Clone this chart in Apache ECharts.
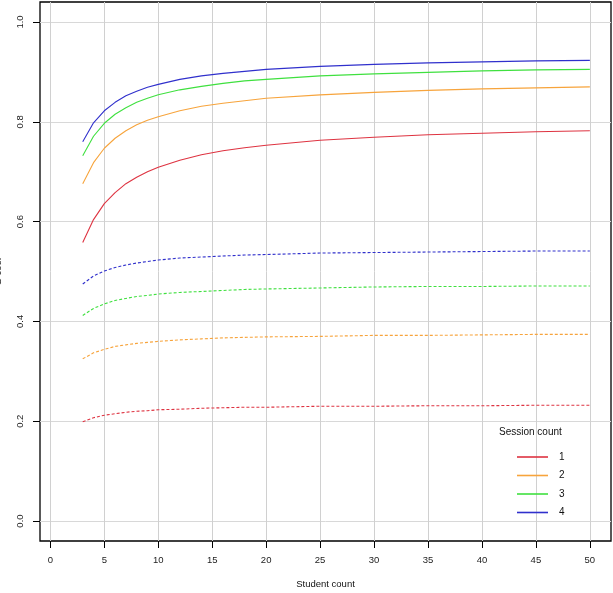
<!DOCTYPE html>
<html>
<head>
<meta charset="utf-8">
<script src="https://cdn.jsdelivr.net/npm/echarts@6/dist/echarts.min.js"></script>
<style>
html,body{margin:0;padding:0;background:#fff;}
#chart{width:613px;height:593px;}
</style>
</head>
<body>
<div id="chart"></div>
<script>
// Student counts (x)
const studentCounts = [3,4,5,6,7,8,9,10,12,14,16,18,20,25,30,35,40,45,50];
// Solid curves, session count 1..4
const solid1 = [0.558,0.604,0.636,0.658,0.676,0.689,0.700,0.709,0.723,0.734,0.742,0.748,0.753,0.763,0.769,0.774,0.777,0.780,0.782];
const solid2 = [0.676,0.718,0.747,0.767,0.782,0.794,0.803,0.810,0.822,0.831,0.837,0.842,0.847,0.854,0.859,0.863,0.866,0.868,0.870];
const solid3 = [0.732,0.771,0.797,0.815,0.828,0.839,0.847,0.854,0.864,0.871,0.877,0.882,0.885,0.892,0.896,0.899,0.902,0.904,0.905];
const solid4 = [0.760,0.798,0.822,0.839,0.852,0.861,0.869,0.875,0.885,0.892,0.897,0.901,0.905,0.911,0.915,0.918,0.920,0.922,0.923];
// Dashed curves, session count 1..4
const dashed1 = [0.199,0.207,0.212,0.215,0.218,0.220,0.221,0.223,0.224,0.226,0.227,0.228,0.228,0.230,0.230,0.231,0.231,0.232,0.232];
const dashed2 = [0.325,0.337,0.344,0.350,0.353,0.356,0.358,0.360,0.363,0.365,0.367,0.368,0.369,0.370,0.372,0.372,0.373,0.374,0.374];
const dashed3 = [0.412,0.426,0.435,0.442,0.446,0.450,0.452,0.455,0.458,0.460,0.462,0.464,0.465,0.467,0.469,0.470,0.470,0.471,0.471];
const dashed4 = [0.475,0.491,0.501,0.508,0.513,0.517,0.520,0.523,0.527,0.529,0.531,0.533,0.534,0.537,0.538,0.539,0.540,0.541,0.541];
// Tick labels
const xTicks = [0,5,10,15,20,25,30,35,40,45,50];
const yTicks = [0,0.2,0.4,0.6,0.8,1.0];
const sessionNames = ['1','2','3','4'];
const colors = ['#de3341','#f7a43c','#3fe03f','#3030cc'];

const solids = [solid1, solid2, solid3, solid4];
const dashes = [dashed1, dashed2, dashed3, dashed4];

const series = [];
solids.forEach((arr, i) => {
  series.push({
    name: sessionNames[i], type: 'line', symbol: 'none', showSymbol: false,
    smooth: false,
    lineStyle: {color: colors[i], width: 1.1},
    itemStyle: {color: colors[i]},
    data: studentCounts.map((x, j) => [x, arr[j]])
  });
});
dashes.forEach((arr, i) => {
  series.push({
    name: sessionNames[i] + ' (dashed)', type: 'line', symbol: 'none', showSymbol: false,
    smooth: false,
    lineStyle: {color: colors[i], width: 1.1, type: [3, 2]},
    itemStyle: {color: colors[i]},
    data: studentCounts.map((x, j) => [x, arr[j]])
  });
});

const font = 'Liberation Sans, Arial, sans-serif';
const chart = echarts.init(document.getElementById('chart'));
chart.setOption({
  animation: false,
  backgroundColor: '#fff',
  grid: {left: 40, right: 2, top: 2, bottom: 52, show: true, borderColor: '#000', borderWidth: 1.3,
    backgroundColor: 'transparent', containLabel: false, outerBoundsMode: 'none'},
  xAxis: {
    type: 'value', min: -0.96, max: 51.96,
    name: 'Student count', nameLocation: 'middle', nameGap: 38,
    nameTextStyle: {fontFamily: font, fontSize: 9.5, color: '#111'},
    axisLine: {show: false, onZero: false},
    axisTick: {show: true, length: 7, inside: false, customValues: xTicks, lineStyle: {color: '#000', width: 1}},
    axisLabel: {customValues: xTicks, margin: 14, fontFamily: font, fontSize: 9.5, color: '#222'},
    splitLine: {show: true, lineStyle: {color: '#d0d0d0', width: 1}}
  },
  yAxis: {
    type: 'value', min: -0.04, max: 1.04,
    name: 'G coef', nameLocation: 'middle', nameGap: 37, nameRotate: 90, nameMoveOverlap: false,
    nameTextStyle: {fontFamily: font, fontSize: 9.5, color: '#111'},
    axisLine: {show: false, onZero: false},
    axisTick: {show: true, length: 7, inside: false, customValues: yTicks, lineStyle: {color: '#000', width: 1}},
    axisLabel: {customValues: yTicks, rotate: 90, margin: 15, fontFamily: font, fontSize: 9.5, color: '#222',
      formatter: v => v.toFixed(1)},
    splitLine: {show: true, lineStyle: {color: '#d8d8d8', width: 1}}
  },
  legend: {
    data: sessionNames, orient: 'vertical', left: 512, top: 446,
    icon: 'rect', itemWidth: 31, itemHeight: 1.6, itemGap: 6.5,
    selectedMode: false,
    textStyle: {fontFamily: font, fontSize: 10, color: '#111', lineHeight: 12, padding: [0, 0, 0, 6]}
  },
  graphic: [{
    type: 'text', left: 499, top: 427,
    style: {text: 'Session count', fontFamily: font, fontSize: 10, fill: '#111'}
  }],
  series: series
});
</script>
</body>
</html>
